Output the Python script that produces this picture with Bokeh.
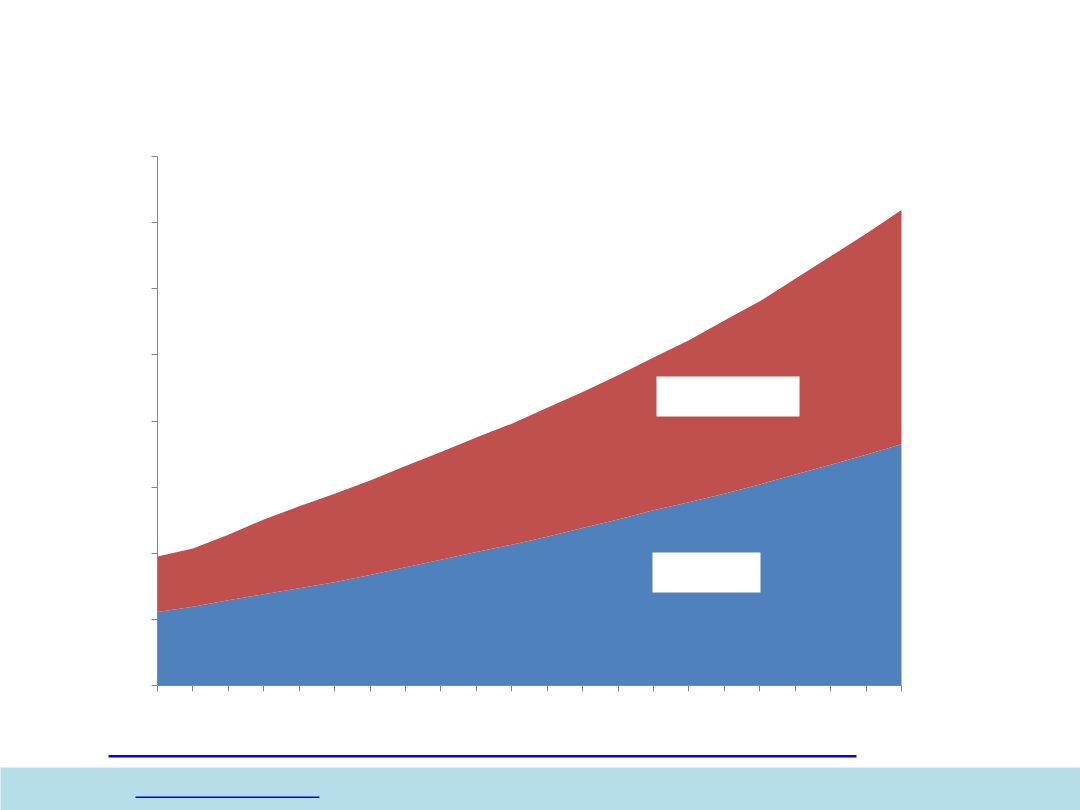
from bokeh.plotting import figure
from bokeh.models import Range1d, FixedTicker, BoxAnnotation
from bokeh.embed import file_html
from bokeh.resources import INLINE

# ---- data ----
periods = list(range(22))
series_a = [1.11, 1.19, 1.29, 1.38, 1.47, 1.56, 1.67, 1.79, 1.90, 2.02, 2.13,
            2.25, 2.38, 2.51, 2.65, 2.77, 2.90, 3.04, 3.19, 3.34, 3.49, 3.65]
series_b = [0.84, 0.88, 0.99, 1.13, 1.24, 1.34, 1.43, 1.53, 1.63, 1.73, 1.83,
            1.95, 2.06, 2.18, 2.31, 2.45, 2.62, 2.77, 2.96, 3.15, 3.34, 3.54]
y_ticks = list(range(9))

# ---- layout: plot region in canvas pixels ----
W, H = 1080, 810
PL, PR, PT, PB = 157, 901, 156, 685
x0, x1 = periods[0], periods[-1]
y0, y1 = y_ticks[0], y_ticks[-1]
sx = (PR - PL) / (x1 - x0)
sy = (PB - PT) / (y1 - y0)
xr = Range1d(x0 - PL / sx, x1 + (W - PR) / sx)
yr = Range1d(y0 - (H - PB) / sy, y1 + PT / sy)

p = figure(width=W, height=H, output_backend="svg", toolbar_location=None,
           x_range=xr, y_range=yr, min_border=0)
p.outline_line_color = None
p.grid.visible = False
p.background_fill_color = "white"
p.border_fill_color = "white"

def cbox(l, t, r, b, color):
    # canvas pixel box (y measured from the top)
    return BoxAnnotation(left=l, right=r, top=t, bottom=b,
                         left_units="canvas", right_units="canvas",
                         top_units="canvas", bottom_units="canvas",
                         fill_color=color, fill_alpha=1.0, line_color=None,
                         level="overlay", propagate_hover=False)

p.add_layout(cbox(-5, 767, W + 5, H + 5, "#B7DDE8"))
p.add_layout(cbox(108, 754.5, 856, 757, "#0000FF"))
p.add_layout(cbox(135, 796, 319, 797.5, "#0000FF"))

p.varea_stack(stackers=["a", "b"], x="x", color=["#4F81BD", "#C0504D"],
              source=dict(x=periods, a=series_a, b=series_b))

p.add_layout(cbox(656, 376, 799, 416, "white"))
p.add_layout(cbox(652, 552, 760, 592, "white"))

xa, ya = p.xaxis[0], p.yaxis[0]
xa.fixed_location = y0
ya.fixed_location = x0
xa.bounds = (x0, x1)
ya.bounds = (y0, y1)
xa.ticker = FixedTicker(ticks=periods)
ya.ticker = FixedTicker(ticks=y_ticks)
for ax in (xa, ya):
    ax.axis_line_color = "#868686"
    ax.major_tick_line_color = "#868686"
    ax.major_tick_out = 6
    ax.major_tick_in = 0
    ax.minor_tick_line_color = None
    ax.major_label_text_color = None
    ax.level = "overlay"

open("out.html", "w").write(file_html(p, INLINE))
